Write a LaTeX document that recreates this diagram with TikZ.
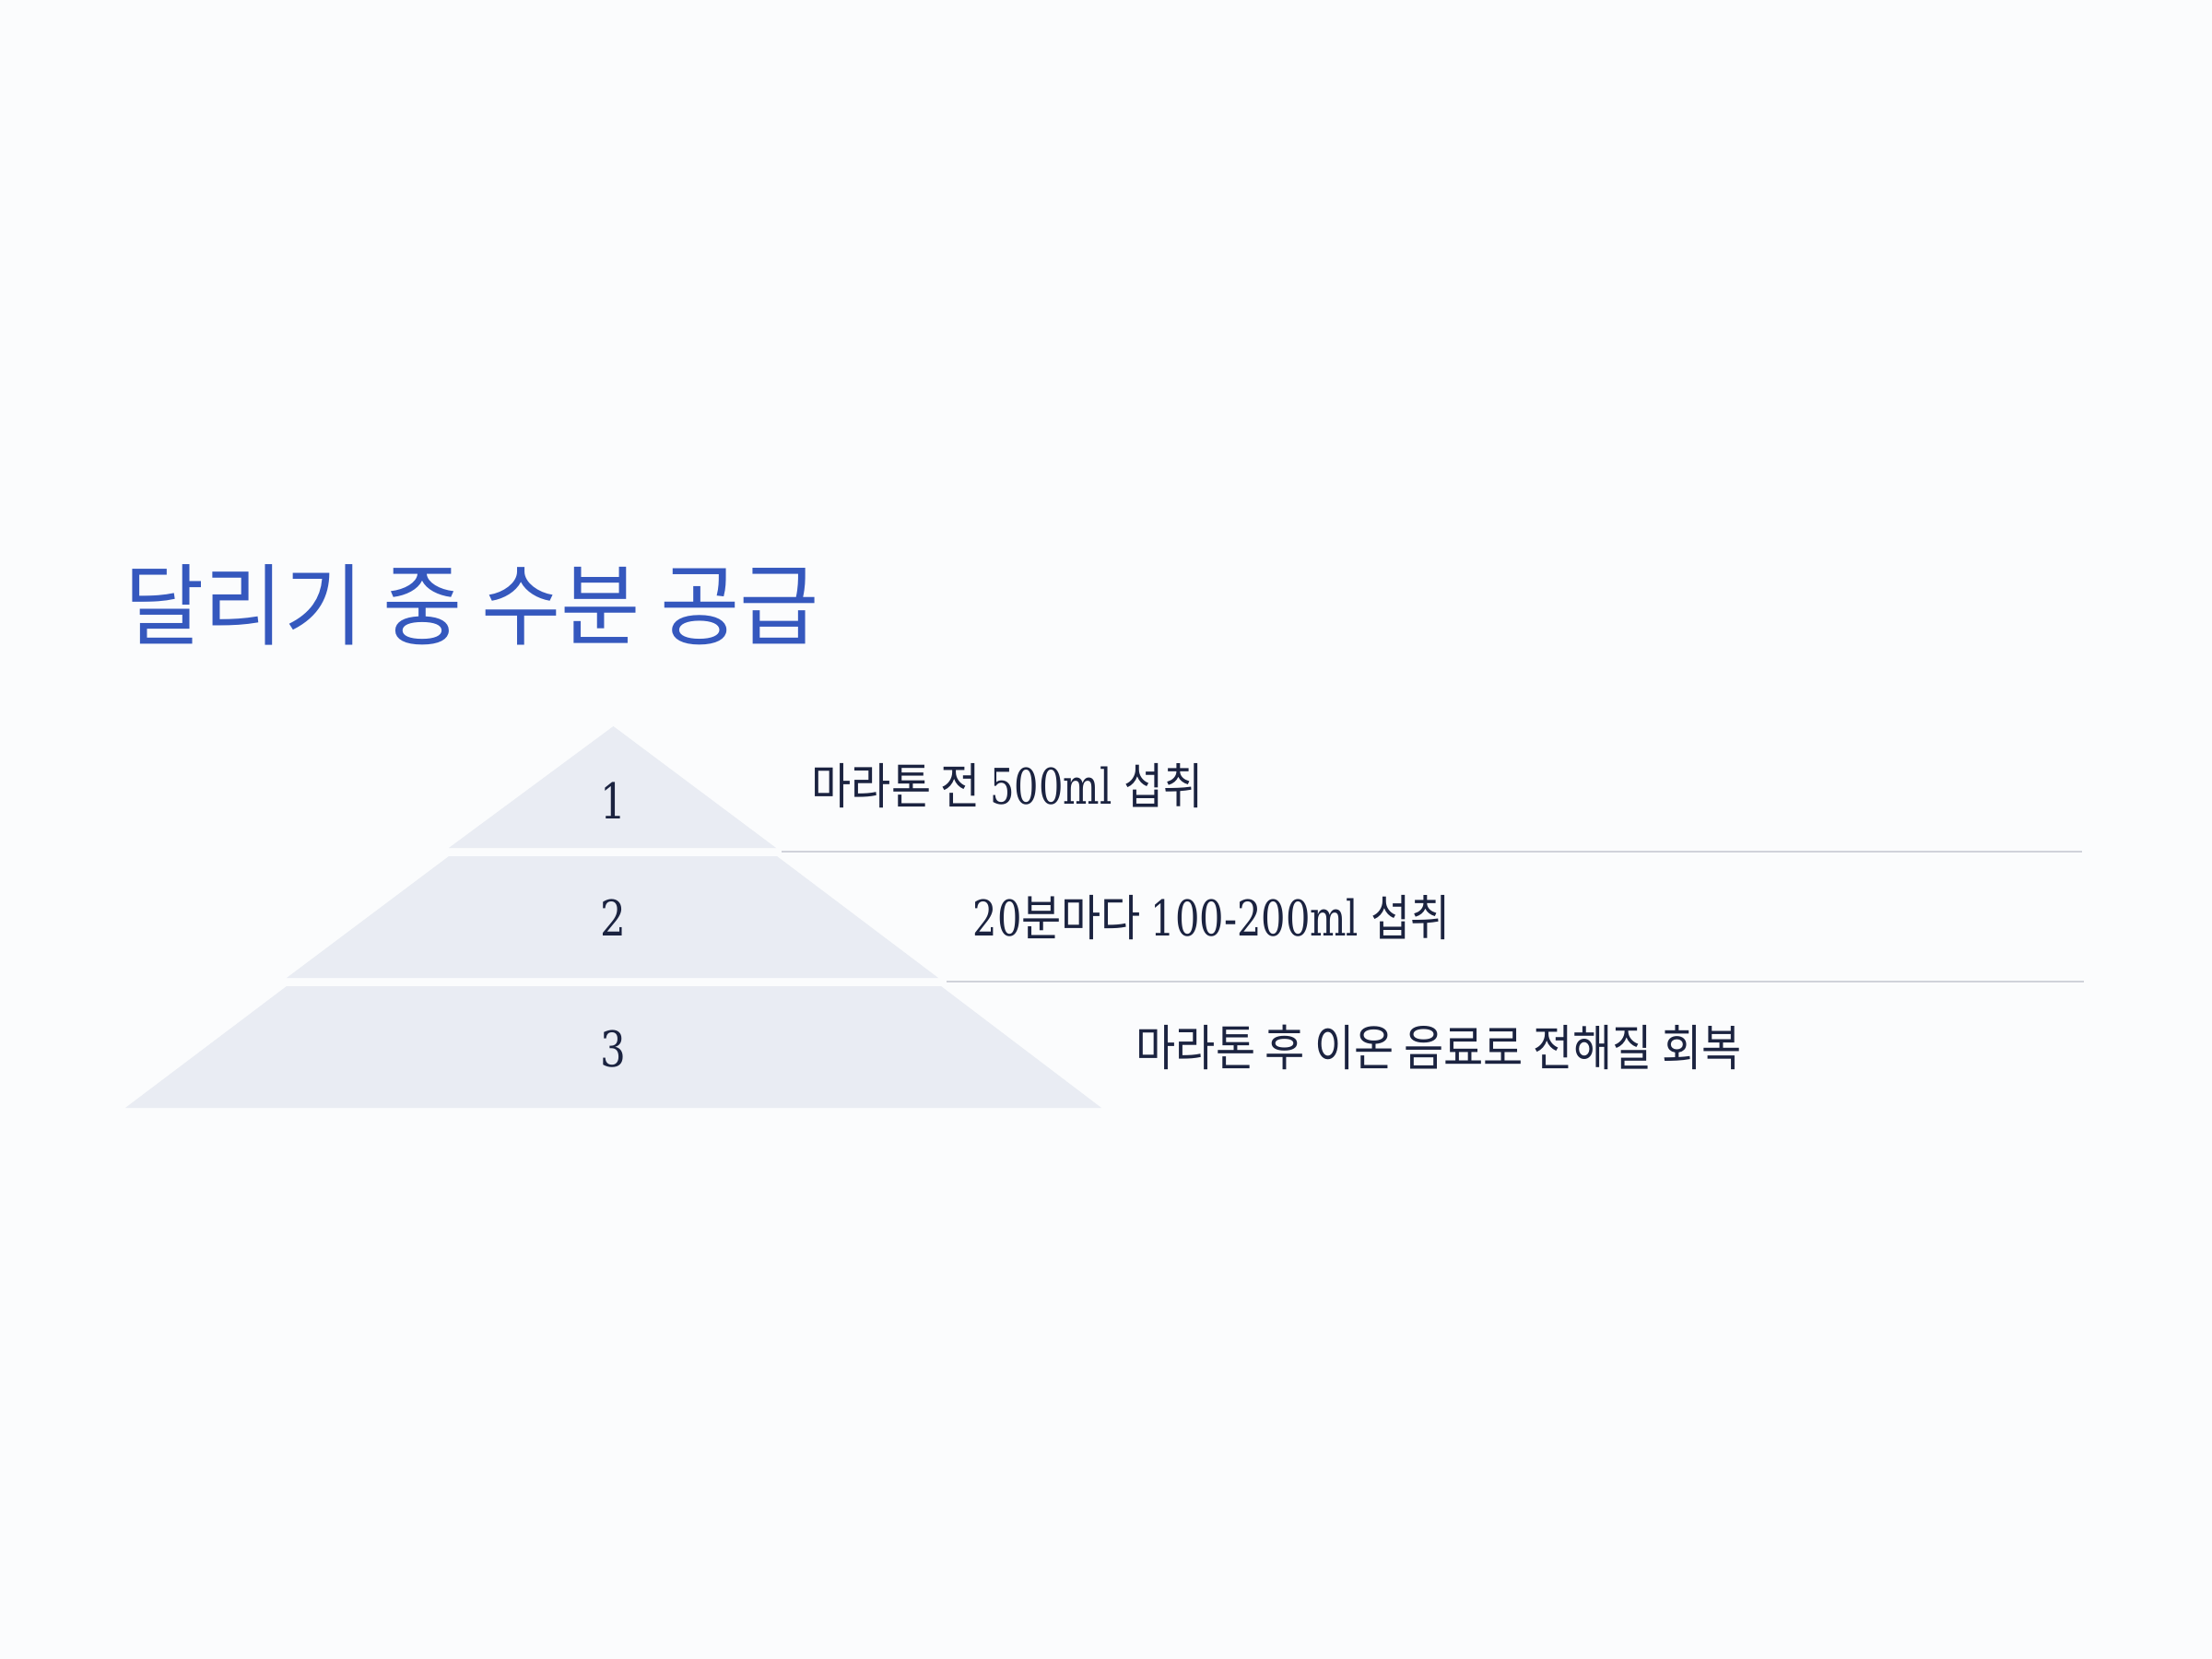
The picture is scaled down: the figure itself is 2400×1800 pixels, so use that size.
\documentclass[tikz,border=0pt]{standalone}
\usepackage{fontspec}
\newfontfamily\krtitle[FakeStretch=0.97]{Noto Sans CJK KR}
\newfontfamily\kr[FakeStretch=0.88]{Noto Sans CJK KR}
\newfontfamily\slab[FakeStretch=0.78]{DejaVu Serif}
\newfontfamily\slabnum[FakeStretch=0.82]{DejaVu Serif}
\definecolor{bgc}{HTML}{FBFCFD}
\definecolor{titlec}{HTML}{3558BE}
\definecolor{textc}{HTML}{1B2340}
\definecolor{tierc}{HTML}{E9ECF3}
\definecolor{linec}{HTML}{D0D2DA}
\begin{document}
\begin{tikzpicture}[x=0.3pt,y=-0.3pt,
  tier/.style={fill=tierc,draw=none},
  sep/.style={draw=linec,line width=0.7pt},
  num/.style={inner sep=0pt,anchor=base,text=textc,font=\slabnum\fontsize{16}{19}\selectfont},
  desc/.style={inner sep=0pt,anchor=base west,text=textc,font=\fontsize{16}{19}\selectfont},
  title/.style={inner sep=0pt,anchor=base west,text=titlec,font=\krtitle\fontsize{29}{34}\selectfont}]
\fill[bgc] (0,0) rectangle (2400,1800);
\useasboundingbox (0,0) rectangle (2400,1800);
% title
\node[title] (title) at (135,692) {달리기 중 수분 공급};
% pyramid tiers
\fill[tier] (665.5,788) -- (842,920) -- (487,920) -- cycle;
\fill[tier] (487,929) -- (843,929) -- (1018,1061) -- (311,1061) -- cycle;
\fill[tier] (311,1070) -- (1021,1070) -- (1195,1202) -- (136,1202) -- cycle;
% numbers
\node[num] (n1) at (665,888) {1};
\node[num] (n2) at (665,1015) {2};
\node[num] (n3) at (665,1157) {3};
% descriptions
\node[desc] (d1) at (880,872) {\kr 마라톤 전 \slab 500ml \kr 섭취};
\node[desc] (d2) at (1055,1015) {\slab 20\kr 분마다 \slab 100-200ml \kr 섭취};
\node[desc] (d3) at (1232,1156) {\kr 마라톤 후 이온 음료로 전해질 회복};
% separator lines
\coordinate (l1a) at (848,924);
\coordinate (l1b) at (2259,924);
\coordinate (l2a) at (1027,1065);
\coordinate (l2b) at (2261,1065);
\draw[sep] (l1a) -- (l1b);
\draw[sep] (l2a) -- (l2b);
\end{tikzpicture}
\end{document}
